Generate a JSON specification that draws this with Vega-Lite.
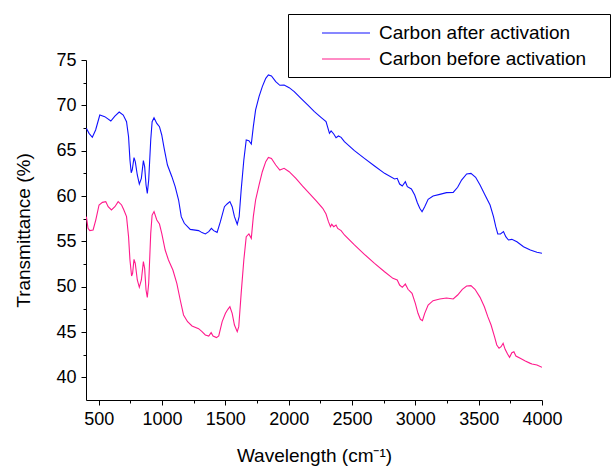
{
  "$schema": "https://vega.github.io/schema/vega-lite/v6.json",
  "width": 456,
  "height": 340,
  "autosize": "none",
  "padding": {"left": 86, "top": 60, "right": 69, "bottom": 66},
  "background": "white",
  "config": {
    "view": {"stroke": null},
    "font": "Liberation Sans",
    "axis": {"grid": false, "domainColor": "#000", "tickColor": "#000", "labelColor": "#000", "titleColor": "#000", "labelFont": "Liberation Sans", "titleFont": "Liberation Sans", "titleFontWeight": "normal", "labelFontSize": 18, "titleFontSize": 19, "labelOverlap": false, "labelFlush": false}
  },
  "data": {"values": [
    {"x":403,"y":67.46,"s":"Carbon after activation"},
    {"x":424,"y":66.91,"s":"Carbon after activation"},
    {"x":450,"y":66.47,"s":"Carbon after activation"},
    {"x":476,"y":67.28,"s":"Carbon after activation"},
    {"x":509,"y":68.93,"s":"Carbon after activation"},
    {"x":548,"y":68.75,"s":"Carbon after activation"},
    {"x":596,"y":68.27,"s":"Carbon after activation"},
    {"x":628,"y":68.82,"s":"Carbon after activation"},
    {"x":662,"y":69.26,"s":"Carbon after activation"},
    {"x":694,"y":68.93,"s":"Carbon after activation"},
    {"x":720,"y":68.2,"s":"Carbon after activation"},
    {"x":736,"y":66.54,"s":"Carbon after activation"},
    {"x":747,"y":63.97,"s":"Carbon after activation"},
    {"x":757,"y":62.57,"s":"Carbon after activation"},
    {"x":765,"y":62.87,"s":"Carbon after activation"},
    {"x":779,"y":64.23,"s":"Carbon after activation"},
    {"x":789,"y":63.79,"s":"Carbon after activation"},
    {"x":805,"y":62.32,"s":"Carbon after activation"},
    {"x":821,"y":61.32,"s":"Carbon after activation"},
    {"x":837,"y":61.95,"s":"Carbon after activation"},
    {"x":853,"y":63.9,"s":"Carbon after activation"},
    {"x":863,"y":63.24,"s":"Carbon after activation"},
    {"x":874,"y":61.21,"s":"Carbon after activation"},
    {"x":884,"y":60.29,"s":"Carbon after activation"},
    {"x":895,"y":61.76,"s":"Carbon after activation"},
    {"x":911,"y":66.18,"s":"Carbon after activation"},
    {"x":922,"y":68.2,"s":"Carbon after activation"},
    {"x":937,"y":68.64,"s":"Carbon after activation"},
    {"x":959,"y":68.01,"s":"Carbon after activation"},
    {"x":980,"y":67.65,"s":"Carbon after activation"},
    {"x":998,"y":66.73,"s":"Carbon after activation"},
    {"x":1017,"y":65.26,"s":"Carbon after activation"},
    {"x":1043,"y":63.42,"s":"Carbon after activation"},
    {"x":1078,"y":62.13,"s":"Carbon after activation"},
    {"x":1104,"y":61.03,"s":"Carbon after activation"},
    {"x":1131,"y":59.56,"s":"Carbon after activation"},
    {"x":1152,"y":57.72,"s":"Carbon after activation"},
    {"x":1176,"y":56.99,"s":"Carbon after activation"},
    {"x":1223,"y":56.32,"s":"Carbon after activation"},
    {"x":1289,"y":56.18,"s":"Carbon after activation"},
    {"x":1316,"y":55.96,"s":"Carbon after activation"},
    {"x":1342,"y":55.81,"s":"Carbon after activation"},
    {"x":1369,"y":56.07,"s":"Carbon after activation"},
    {"x":1390,"y":56.43,"s":"Carbon after activation"},
    {"x":1408,"y":56.18,"s":"Carbon after activation"},
    {"x":1435,"y":55.99,"s":"Carbon after activation"},
    {"x":1461,"y":57.17,"s":"Carbon after activation"},
    {"x":1493,"y":58.82,"s":"Carbon after activation"},
    {"x":1514,"y":59.12,"s":"Carbon after activation"},
    {"x":1536,"y":59.38,"s":"Carbon after activation"},
    {"x":1554,"y":58.82,"s":"Carbon after activation"},
    {"x":1572,"y":57.72,"s":"Carbon after activation"},
    {"x":1594,"y":56.88,"s":"Carbon after activation"},
    {"x":1609,"y":57.72,"s":"Carbon after activation"},
    {"x":1625,"y":60.66,"s":"Carbon after activation"},
    {"x":1646,"y":63.97,"s":"Carbon after activation"},
    {"x":1665,"y":66.18,"s":"Carbon after activation"},
    {"x":1686,"y":66.1,"s":"Carbon after activation"},
    {"x":1705,"y":65.74,"s":"Carbon after activation"},
    {"x":1721,"y":67.65,"s":"Carbon after activation"},
    {"x":1739,"y":69.49,"s":"Carbon after activation"},
    {"x":1766,"y":70.96,"s":"Carbon after activation"},
    {"x":1792,"y":72.06,"s":"Carbon after activation"},
    {"x":1819,"y":72.98,"s":"Carbon after activation"},
    {"x":1840,"y":73.35,"s":"Carbon after activation"},
    {"x":1864,"y":73.24,"s":"Carbon after activation"},
    {"x":1898,"y":72.61,"s":"Carbon after activation"},
    {"x":1930,"y":72.21,"s":"Carbon after activation"},
    {"x":1964,"y":72.24,"s":"Carbon after activation"},
    {"x":2004,"y":71.95,"s":"Carbon after activation"},
    {"x":2044,"y":71.51,"s":"Carbon after activation"},
    {"x":2097,"y":70.77,"s":"Carbon after activation"},
    {"x":2150,"y":70.04,"s":"Carbon after activation"},
    {"x":2203,"y":69.3,"s":"Carbon after activation"},
    {"x":2255,"y":68.68,"s":"Carbon after activation"},
    {"x":2295,"y":68.2,"s":"Carbon after activation"},
    {"x":2322,"y":66.91,"s":"Carbon after activation"},
    {"x":2335,"y":67.17,"s":"Carbon after activation"},
    {"x":2356,"y":66.84,"s":"Carbon after activation"},
    {"x":2374,"y":66.43,"s":"Carbon after activation"},
    {"x":2393,"y":66.62,"s":"Carbon after activation"},
    {"x":2414,"y":66.47,"s":"Carbon after activation"},
    {"x":2440,"y":65.99,"s":"Carbon after activation"},
    {"x":2519,"y":65.0,"s":"Carbon after activation"},
    {"x":2598,"y":64.15,"s":"Carbon after activation"},
    {"x":2678,"y":63.31,"s":"Carbon after activation"},
    {"x":2757,"y":62.5,"s":"Carbon after activation"},
    {"x":2836,"y":61.88,"s":"Carbon after activation"},
    {"x":2857,"y":61.95,"s":"Carbon after activation"},
    {"x":2876,"y":61.32,"s":"Carbon after activation"},
    {"x":2897,"y":61.1,"s":"Carbon after activation"},
    {"x":2921,"y":61.58,"s":"Carbon after activation"},
    {"x":2937,"y":61.03,"s":"Carbon after activation"},
    {"x":2969,"y":60.77,"s":"Carbon after activation"},
    {"x":2995,"y":60.11,"s":"Carbon after activation"},
    {"x":3016,"y":59.26,"s":"Carbon after activation"},
    {"x":3035,"y":58.64,"s":"Carbon after activation"},
    {"x":3053,"y":58.27,"s":"Carbon after activation"},
    {"x":3074,"y":58.82,"s":"Carbon after activation"},
    {"x":3101,"y":59.63,"s":"Carbon after activation"},
    {"x":3140,"y":60.0,"s":"Carbon after activation"},
    {"x":3193,"y":60.18,"s":"Carbon after activation"},
    {"x":3246,"y":60.37,"s":"Carbon after activation"},
    {"x":3299,"y":60.4,"s":"Carbon after activation"},
    {"x":3334,"y":60.96,"s":"Carbon after activation"},
    {"x":3365,"y":61.76,"s":"Carbon after activation"},
    {"x":3405,"y":62.43,"s":"Carbon after activation"},
    {"x":3439,"y":62.5,"s":"Carbon after activation"},
    {"x":3476,"y":62.06,"s":"Carbon after activation"},
    {"x":3511,"y":61.21,"s":"Carbon after activation"},
    {"x":3550,"y":60.11,"s":"Carbon after activation"},
    {"x":3590,"y":59.01,"s":"Carbon after activation"},
    {"x":3617,"y":57.72,"s":"Carbon after activation"},
    {"x":3635,"y":56.62,"s":"Carbon after activation"},
    {"x":3651,"y":55.81,"s":"Carbon after activation"},
    {"x":3672,"y":55.81,"s":"Carbon after activation"},
    {"x":3696,"y":56.07,"s":"Carbon after activation"},
    {"x":3714,"y":55.51,"s":"Carbon after activation"},
    {"x":3735,"y":55.15,"s":"Carbon after activation"},
    {"x":3762,"y":55.22,"s":"Carbon after activation"},
    {"x":3802,"y":54.96,"s":"Carbon after activation"},
    {"x":3854,"y":54.41,"s":"Carbon after activation"},
    {"x":3908,"y":54.04,"s":"Carbon after activation"},
    {"x":3960,"y":53.79,"s":"Carbon after activation"},
    {"x":4000,"y":53.68,"s":"Carbon after activation"},
    {"x":403,"y":57.72,"s":"Carbon before activation"},
    {"x":416,"y":56.43,"s":"Carbon before activation"},
    {"x":430,"y":56.18,"s":"Carbon before activation"},
    {"x":456,"y":56.25,"s":"Carbon before activation"},
    {"x":477,"y":57.35,"s":"Carbon before activation"},
    {"x":503,"y":59.01,"s":"Carbon before activation"},
    {"x":530,"y":59.3,"s":"Carbon before activation"},
    {"x":556,"y":59.38,"s":"Carbon before activation"},
    {"x":575,"y":58.82,"s":"Carbon before activation"},
    {"x":601,"y":58.46,"s":"Carbon before activation"},
    {"x":628,"y":58.82,"s":"Carbon before activation"},
    {"x":654,"y":59.38,"s":"Carbon before activation"},
    {"x":681,"y":59.01,"s":"Carbon before activation"},
    {"x":699,"y":58.46,"s":"Carbon before activation"},
    {"x":720,"y":57.72,"s":"Carbon before activation"},
    {"x":736,"y":55.51,"s":"Carbon before activation"},
    {"x":747,"y":52.94,"s":"Carbon before activation"},
    {"x":760,"y":51.18,"s":"Carbon before activation"},
    {"x":768,"y":51.47,"s":"Carbon before activation"},
    {"x":779,"y":53.01,"s":"Carbon before activation"},
    {"x":789,"y":52.57,"s":"Carbon before activation"},
    {"x":805,"y":50.74,"s":"Carbon before activation"},
    {"x":821,"y":49.93,"s":"Carbon before activation"},
    {"x":837,"y":50.74,"s":"Carbon before activation"},
    {"x":853,"y":52.76,"s":"Carbon before activation"},
    {"x":863,"y":52.02,"s":"Carbon before activation"},
    {"x":874,"y":49.63,"s":"Carbon before activation"},
    {"x":884,"y":48.82,"s":"Carbon before activation"},
    {"x":895,"y":50.37,"s":"Carbon before activation"},
    {"x":911,"y":55.88,"s":"Carbon before activation"},
    {"x":922,"y":57.9,"s":"Carbon before activation"},
    {"x":937,"y":58.27,"s":"Carbon before activation"},
    {"x":959,"y":57.35,"s":"Carbon before activation"},
    {"x":980,"y":56.91,"s":"Carbon before activation"},
    {"x":998,"y":55.88,"s":"Carbon before activation"},
    {"x":1025,"y":54.04,"s":"Carbon before activation"},
    {"x":1051,"y":52.94,"s":"Carbon before activation"},
    {"x":1086,"y":51.84,"s":"Carbon before activation"},
    {"x":1117,"y":50.37,"s":"Carbon before activation"},
    {"x":1144,"y":48.53,"s":"Carbon before activation"},
    {"x":1170,"y":46.88,"s":"Carbon before activation"},
    {"x":1202,"y":46.14,"s":"Carbon before activation"},
    {"x":1237,"y":45.66,"s":"Carbon before activation"},
    {"x":1289,"y":45.37,"s":"Carbon before activation"},
    {"x":1316,"y":45.04,"s":"Carbon before activation"},
    {"x":1342,"y":44.67,"s":"Carbon before activation"},
    {"x":1369,"y":44.56,"s":"Carbon before activation"},
    {"x":1388,"y":44.93,"s":"Carbon before activation"},
    {"x":1403,"y":44.56,"s":"Carbon before activation"},
    {"x":1430,"y":44.38,"s":"Carbon before activation"},
    {"x":1448,"y":44.56,"s":"Carbon before activation"},
    {"x":1475,"y":46.14,"s":"Carbon before activation"},
    {"x":1501,"y":47.06,"s":"Carbon before activation"},
    {"x":1520,"y":47.5,"s":"Carbon before activation"},
    {"x":1536,"y":47.79,"s":"Carbon before activation"},
    {"x":1554,"y":47.06,"s":"Carbon before activation"},
    {"x":1572,"y":45.77,"s":"Carbon before activation"},
    {"x":1594,"y":45.04,"s":"Carbon before activation"},
    {"x":1606,"y":45.59,"s":"Carbon before activation"},
    {"x":1625,"y":49.26,"s":"Carbon before activation"},
    {"x":1646,"y":52.94,"s":"Carbon before activation"},
    {"x":1665,"y":55.51,"s":"Carbon before activation"},
    {"x":1686,"y":55.81,"s":"Carbon before activation"},
    {"x":1705,"y":55.33,"s":"Carbon before activation"},
    {"x":1721,"y":57.72,"s":"Carbon before activation"},
    {"x":1739,"y":59.56,"s":"Carbon before activation"},
    {"x":1766,"y":61.21,"s":"Carbon before activation"},
    {"x":1792,"y":62.68,"s":"Carbon before activation"},
    {"x":1819,"y":63.79,"s":"Carbon before activation"},
    {"x":1840,"y":64.26,"s":"Carbon before activation"},
    {"x":1864,"y":64.15,"s":"Carbon before activation"},
    {"x":1898,"y":63.42,"s":"Carbon before activation"},
    {"x":1930,"y":62.87,"s":"Carbon before activation"},
    {"x":1964,"y":63.05,"s":"Carbon before activation"},
    {"x":2004,"y":62.68,"s":"Carbon before activation"},
    {"x":2057,"y":61.95,"s":"Carbon before activation"},
    {"x":2110,"y":61.1,"s":"Carbon before activation"},
    {"x":2163,"y":60.29,"s":"Carbon before activation"},
    {"x":2216,"y":59.49,"s":"Carbon before activation"},
    {"x":2269,"y":58.64,"s":"Carbon before activation"},
    {"x":2295,"y":58.01,"s":"Carbon before activation"},
    {"x":2314,"y":57.17,"s":"Carbon before activation"},
    {"x":2330,"y":56.62,"s":"Carbon before activation"},
    {"x":2340,"y":56.88,"s":"Carbon before activation"},
    {"x":2356,"y":56.62,"s":"Carbon before activation"},
    {"x":2374,"y":56.8,"s":"Carbon before activation"},
    {"x":2387,"y":56.43,"s":"Carbon before activation"},
    {"x":2414,"y":56.18,"s":"Carbon before activation"},
    {"x":2440,"y":55.7,"s":"Carbon before activation"},
    {"x":2519,"y":54.6,"s":"Carbon before activation"},
    {"x":2598,"y":53.57,"s":"Carbon before activation"},
    {"x":2678,"y":52.57,"s":"Carbon before activation"},
    {"x":2757,"y":51.65,"s":"Carbon before activation"},
    {"x":2823,"y":50.92,"s":"Carbon before activation"},
    {"x":2857,"y":50.74,"s":"Carbon before activation"},
    {"x":2876,"y":50.18,"s":"Carbon before activation"},
    {"x":2897,"y":49.93,"s":"Carbon before activation"},
    {"x":2921,"y":50.29,"s":"Carbon before activation"},
    {"x":2942,"y":49.71,"s":"Carbon before activation"},
    {"x":2974,"y":49.26,"s":"Carbon before activation"},
    {"x":3000,"y":48.16,"s":"Carbon before activation"},
    {"x":3021,"y":47.06,"s":"Carbon before activation"},
    {"x":3040,"y":46.4,"s":"Carbon before activation"},
    {"x":3056,"y":46.25,"s":"Carbon before activation"},
    {"x":3074,"y":47.06,"s":"Carbon before activation"},
    {"x":3101,"y":47.98,"s":"Carbon before activation"},
    {"x":3140,"y":48.46,"s":"Carbon before activation"},
    {"x":3193,"y":48.64,"s":"Carbon before activation"},
    {"x":3246,"y":48.75,"s":"Carbon before activation"},
    {"x":3299,"y":48.64,"s":"Carbon before activation"},
    {"x":3334,"y":49.08,"s":"Carbon before activation"},
    {"x":3371,"y":49.71,"s":"Carbon before activation"},
    {"x":3405,"y":50.07,"s":"Carbon before activation"},
    {"x":3439,"y":50.11,"s":"Carbon before activation"},
    {"x":3471,"y":49.71,"s":"Carbon before activation"},
    {"x":3511,"y":48.82,"s":"Carbon before activation"},
    {"x":3545,"y":47.79,"s":"Carbon before activation"},
    {"x":3572,"y":46.69,"s":"Carbon before activation"},
    {"x":3598,"y":45.77,"s":"Carbon before activation"},
    {"x":3625,"y":44.49,"s":"Carbon before activation"},
    {"x":3643,"y":43.57,"s":"Carbon before activation"},
    {"x":3661,"y":43.2,"s":"Carbon before activation"},
    {"x":3677,"y":43.38,"s":"Carbon before activation"},
    {"x":3693,"y":43.75,"s":"Carbon before activation"},
    {"x":3709,"y":43.09,"s":"Carbon before activation"},
    {"x":3728,"y":42.57,"s":"Carbon before activation"},
    {"x":3744,"y":42.21,"s":"Carbon before activation"},
    {"x":3762,"y":42.72,"s":"Carbon before activation"},
    {"x":3778,"y":42.83,"s":"Carbon before activation"},
    {"x":3794,"y":42.35,"s":"Carbon before activation"},
    {"x":3828,"y":42.1,"s":"Carbon before activation"},
    {"x":3868,"y":41.8,"s":"Carbon before activation"},
    {"x":3908,"y":41.54,"s":"Carbon before activation"},
    {"x":3921,"y":41.47,"s":"Carbon before activation"},
    {"x":3960,"y":41.36,"s":"Carbon before activation"},
    {"x":4000,"y":41.1,"s":"Carbon before activation"}
  ]},
  "mark": {"type": "line", "strokeWidth": 1.1, "clip": true},
  "encoding": {
    "x": {"field": "x", "type": "quantitative", "title": "Wavelength (cm⁻¹)",
      "scale": {"domain": [400, 4000], "nice": false, "zero": false},
      "axis": {"values": [500,750,1000,1250,1500,1750,2000,2250,2500,2750,3000,3250,3500,3750,4000],
        "labelExpr": "datum.value % 500 === 0 ? datum.label : ''",
        "tickSize": {"condition": {"test": "datum.value % 500 === 0", "value": 5}, "value": 3},
        "labelPadding": 5, "titlePadding": 18, "format": "d"}},
    "y": {"field": "y", "type": "quantitative", "title": "Transmittance (%)",
      "scale": {"domain": [37.5, 75], "nice": false, "zero": false},
      "axis": {"values": [40,42.5,45,47.5,50,52.5,55,57.5,60,62.5,65,67.5,70,72.5,75],
        "labelExpr": "datum.value % 5 === 0 ? datum.label : ''",
        "tickSize": {"condition": {"test": "datum.value % 5 === 0", "value": 5}, "value": 3},
        "labelPadding": 5, "titlePadding": 22}},
    "color": {"field": "s", "type": "nominal",
      "scale": {"domain": ["Carbon after activation", "Carbon before activation"], "range": ["#1010ff", "#ff1a8c"]},
      "legend": {"title": "\u00a0", "titleOrient": "right", "titlePadding": 16, "titleFontSize": 2, "titleColor": "white",
        "orient": "none", "legendX": 202, "legendY": -46,
        "strokeColor": "#000", "padding": 8, "symbolType": "M-2.4,0H2.4", "symbolSize": 400, "symbolStrokeWidth": 1.2,
        "symbolOffset": 39, "labelOffset": 22, "labelFontSize": 19, "labelFont": "Liberation Sans", "labelColor": "#000",
        "rowPadding": 5, "labelLimit": 400}}
  }
}
